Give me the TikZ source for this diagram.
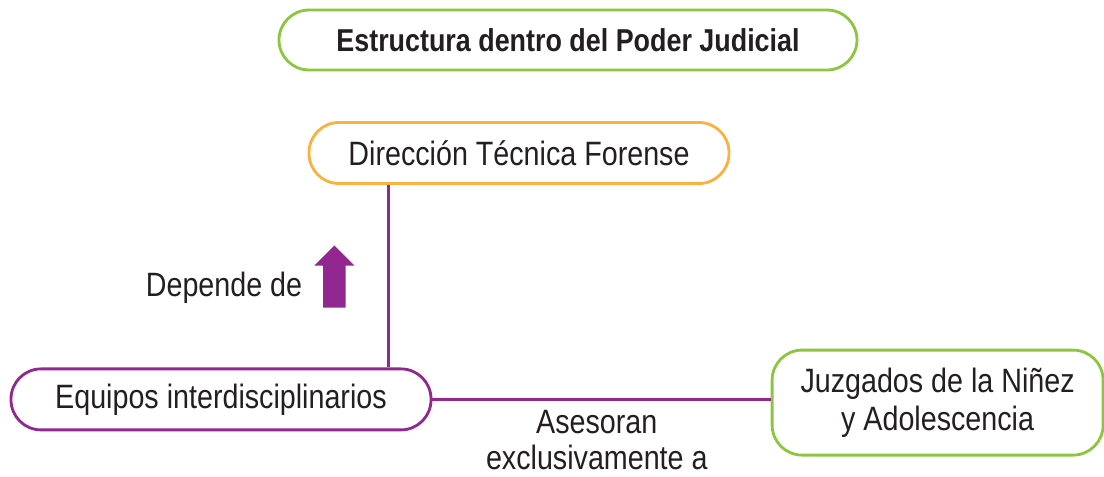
\documentclass[tikz,border=0pt]{standalone}
\usepackage{fontspec}
\setmainfont[FakeStretch=0.85]{Liberation Sans}
\usetikzlibrary{shapes.arrows,calc}

\definecolor{boxgreen}{HTML}{8CC63F}
\definecolor{boxorange}{HTML}{FBB040}
\definecolor{linepurple}{HTML}{92278F}
\definecolor{textgray}{HTML}{231F20}

\tikzset{
  pill/.style={rectangle, draw, line width=2pt, rounded corners=0.75cm, fill=white, text=textgray, align=center, font=\fontsize{24}{27}\selectfont},
  link/.style={draw=linepurple, line width=2pt}
}

\begin{document}
\begin{tikzpicture}
        \useasboundingbox (0,0) rectangle (27.6,11.925);
        % Nodes
        \node (title) [pill, draw=boxgreen, minimum height=1.5cm, minimum width=14.45cm, font=\fontsize{22.5}{27}\selectfont\bfseries] at (14.2, 10.925) {Estructura dentro del Poder Judicial};
        \node (direccion) [pill, draw=boxorange, minimum height=1.525cm, minimum width=10.5cm] at (12.975, 8.1) {Dirección Técnica Forense};
        \node (equipos) [pill, draw=linepurple, minimum height=1.525cm, minimum width=10.5cm] at (5.525, 1.94) {Equipos interdisciplinarios};
        \node (juzgados) [pill, draw=boxgreen, minimum height=2.625cm, minimum width=8.275cm] at (23.44, 1.86) {Juzgados de la Niñez\\y Adolescencia};
        \node (depende) [text=textgray, font=\fontsize{24}{27}\selectfont] at (5.6, 4.72) {Depende de};
        \node (flecha) [single arrow, shape border rotate=90, fill=linepurple, inner sep=0.275cm, minimum width=0pt, minimum height=1.55cm, single arrow head extend=0.22cm, single arrow tip angle=90] at (8.36, 4.87) {};
        \node (asesoran) [text=textgray, align=center, inner sep=0pt, font=\fontsize{24}{26}\selectfont] at (14.92, 0.92) {Asesoran\\exclusivamente a};
        % Lines
        \draw[link] ([xshift=-1.1cm]equipos.north east) -- ([xshift=-1.1cm]equipos.north east |- direccion.south);
        \draw[link] (equipos.east) -- (equipos.east -| juzgados.west);
\end{tikzpicture}
\end{document}
